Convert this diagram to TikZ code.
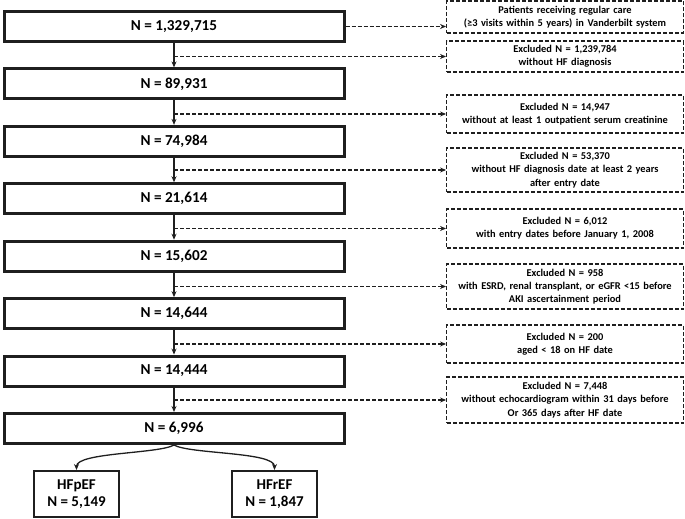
\documentclass[tikz,border=0pt]{standalone}
\usepackage{fontspec}
\setmainfont{Carlito}
\usepackage{tikz}
\usetikzlibrary{calc}
\usetikzlibrary{arrows.meta}
\usetikzlibrary{positioning}
\tikzset{stage/.style={rectangle,draw=black!88,line width=3pt,minimum width=340pt,minimum height=30pt,inner sep=0pt,font=\fontsize{15.2}{18}\selectfont\bfseries}}
\tikzset{excl/.style={rectangle,draw=black!88,line width=1.4pt,dash pattern=on 4pt off 2pt,minimum width=236.5pt,text width=234pt,inner sep=1pt,align=center,font=\fontsize{10.4}{13.2}\selectfont\bfseries}}

\begin{document}
\begin{tikzpicture}[x=1pt,y=-1pt]
\tikzset{group/.style={rectangle,draw=black!88,line width=2pt,minimum width=85pt,minimum height=46pt,inner sep=0pt,align=center,font=\fontsize{15}{17}\selectfont\bfseries}}
\tikzset{flow/.style={line width=1.3pt,draw=black!88,-{Stealth[length=6pt,width=5pt]}}}
\useasboundingbox (0,0) rectangle (685,519);

\foreach \i / \n in {1/{1,329,715},2/{89,931},3/{74,984},4/{21,614},5/{15,602},6/{14,644},7/{14,444},8/{6,996}} {
	\node[stage] (N\i) at (174, {26.5+57.43*(\i-1)}) {N = \n};
}

\foreach \i / \y / \h / \t in {
	1/17/32/{Patients receiving regular care\\(≥3 visits within 5 years) in Vanderbilt system},
	2/56.5/31/{Excluded N = 1,239,784\\without HF diagnosis},
	3/114/38/{Excluded N = 14,947\\without at least 1 outpatient serum creatinine},
	4/170/44/{Excluded N = 53,370\\without HF diagnosis date at least 2 years\\after entry date},
	5/228.5/39/{Excluded N = 6,012\\with entry dates before January 1, 2008},
	6/286.5/45/{Excluded N = 958\\with ESRD, renal transplant, or eGFR <15 before\\AKI ascertainment period},
	7/344/38/{Excluded N = 200\\aged < 18 on HF date},
	8/400/46/{Excluded N = 7,448\\without echocardiogram within 31 days before\\Or 365 days after HF date}} {
	\node[excl,minimum height=\h pt] (E\i) at (565, \y) {\t};
}

\node[group] (HFp) at (76.5, 494) {HFpEF\\N = 5,149};
\node[group] (HFr) at (274.5, 494) {HFrEF\\N = 1,847};

\foreach \i / \j in {1/2,2/3,3/4,4/5,5/6,6/7,7/8} {
	\draw[flow] (N\i) -- (N\j);
}

\draw[flow,dash pattern=on 4pt off 2pt] (N1.east) -- (N1.east -| E1.west);
\foreach \i in {2,...,8} {
	\draw[flow,dash pattern=on 4pt off 2pt] (N\i.north |- E\i.west) -- (E\i.west);
}

\draw[flow] (N8.south) to[out=-150,in=90,looseness=0.45] (HFp.north);
\draw[flow] (N8.south) to[out=-30,in=90,looseness=0.45] (HFr.north);
\end{tikzpicture}
\end{document}
